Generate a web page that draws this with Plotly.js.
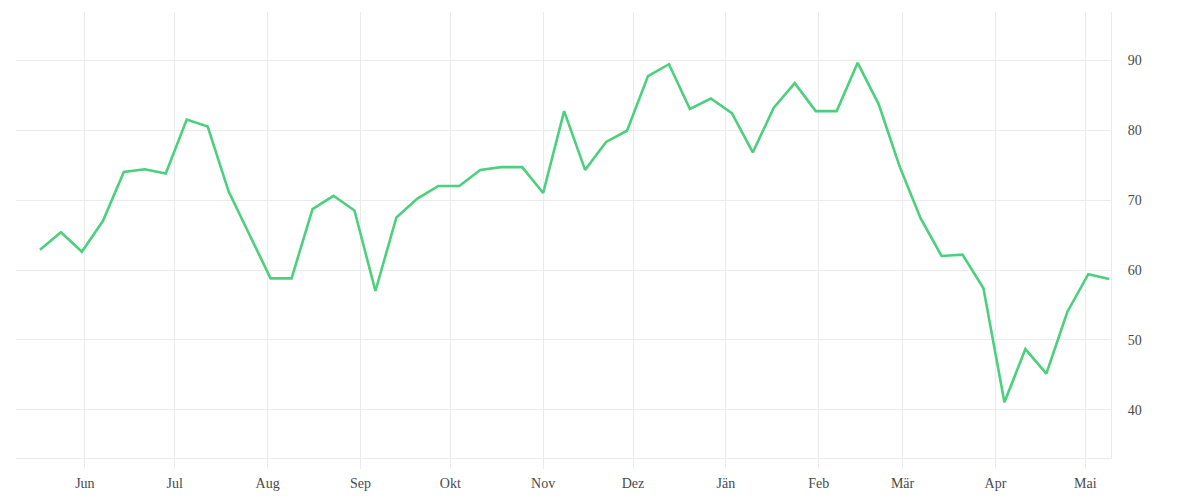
<!DOCTYPE html>
<html>
<head>
<meta charset="utf-8">
<script src="https://cdn.plot.ly/plotly-3.0.1.min.js"></script>
<style>html,body{margin:0;padding:0;background:#fff;}#chart{width:1200px;height:500px;}</style>
</head>
<body>
<div id="chart"></div>
<script>
// Weekly dates (Sundays) from 2020-05-17 to 2021-05-09
const weekDates = [
  "2020-05-17","2020-05-24","2020-05-31","2020-06-07","2020-06-14","2020-06-21","2020-06-28",
  "2020-07-05","2020-07-12","2020-07-19","2020-07-26","2020-08-02","2020-08-09","2020-08-16",
  "2020-08-23","2020-08-30","2020-09-06","2020-09-13","2020-09-20","2020-09-27","2020-10-04",
  "2020-10-11","2020-10-18","2020-10-25","2020-11-01","2020-11-08","2020-11-15","2020-11-22",
  "2020-11-29","2020-12-06","2020-12-13","2020-12-20","2020-12-27","2021-01-03","2021-01-10",
  "2021-01-17","2021-01-24","2021-01-31","2021-02-07","2021-02-14","2021-02-21","2021-02-28",
  "2021-03-07","2021-03-14","2021-03-21","2021-03-28","2021-04-04","2021-04-11","2021-04-18",
  "2021-04-25","2021-05-02","2021-05-09"
];
const values = [
  62.9, 65.4, 62.6, 67.0, 74.0, 74.4, 73.8,
  81.5, 80.5, 71.2, 65.0, 58.8, 58.8, 68.7,
  70.6, 68.5, 57.0, 67.5, 70.2, 72.0, 72.0,
  74.3, 74.7, 74.7, 71.0, 82.7, 74.3, 78.3,
  79.9, 87.7, 89.4, 83.0, 84.5, 82.4, 76.8,
  83.2, 86.7, 82.7, 82.7, 89.6, 83.7, 74.8,
  67.4, 62.0, 62.2, 57.4, 41.1, 48.7, 45.2,
  54.0, 59.4, 58.7
];
const monthTickVals = [
  "2020-06-01","2020-07-01","2020-08-01","2020-09-01","2020-10-01","2020-11-01",
  "2020-12-01","2021-01-01","2021-02-01","2021-03-01","2021-04-01","2021-05-01"
];
const monthTickText = ["Jun","Jul","Aug","Sep","Okt","Nov","Dez","Jän","Feb","Mär","Apr","Mai"];
const yTickVals = [40, 50, 60, 70, 80, 90];

const trace = {
  x: weekDates,
  y: values,
  type: "scatter",
  mode: "lines",
  line: {color: "#4cd07d", width: 2.6},
  hoverinfo: "x+y"
};

const gridColor = "#ebebeb";
const fontFam = "Liberation Serif, DejaVu Serif, serif";
const layout = {
  width: 1200,
  height: 500,
  margin: {l: 16, r: 89, t: 12, b: 42},
  paper_bgcolor: "#ffffff",
  plot_bgcolor: "#ffffff",
  showlegend: false,
  font: {family: fontFam, size: 14, color: "#4a4a4a"},
  xaxis: {
    type: "date",
    range: ["2020-05-09", "2021-05-09 14:00"],
    tickmode: "array",
    tickvals: monthTickVals,
    ticktext: monthTickText,
    showgrid: true,
    gridcolor: gridColor,
    gridwidth: 1,
    showline: true,
    linecolor: gridColor,
    linewidth: 1,
    ticks: "outside",
    ticklen: 10,
    tickcolor: gridColor,
    ticklabelstandoff: 2,
    zeroline: false,
    tickfont: {family: fontFam, size: 14, color: "#4a4a4a"}
  },
  yaxis: {
    side: "right",
    range: [33.14, 96.86],
    tickmode: "array",
    tickvals: yTickVals,
    showgrid: true,
    gridcolor: gridColor,
    gridwidth: 1,
    showline: true,
    linecolor: gridColor,
    linewidth: 1,
    ticks: "outside",
    ticklen: 13,
    tickcolor: "rgba(0,0,0,0)",
    zeroline: false,
    tickfont: {family: fontFam, size: 14, color: "#4a4a4a"}
  }
};

Plotly.newPlot("chart", [trace], layout, {displayModeBar: false, staticPlot: true});
</script>
</body>
</html>
